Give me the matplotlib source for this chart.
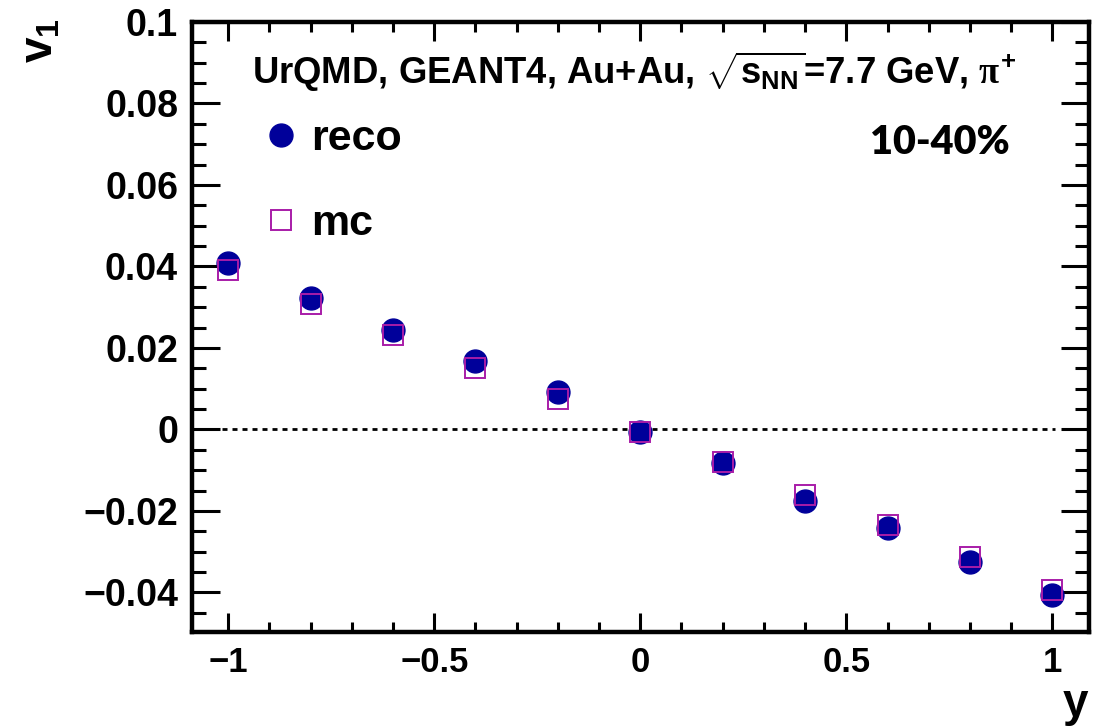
import matplotlib
matplotlib.use('Agg')
import matplotlib.pyplot as plt
from matplotlib.ticker import MultipleLocator, FuncFormatter

plt.rcParams['font.family'] = ['Liberation Sans', 'DejaVu Sans']
plt.rcParams['font.weight'] = 'bold'
plt.rcParams['mathtext.fontset'] = 'custom'
plt.rcParams['mathtext.rm'] = 'Liberation Sans:bold'
plt.rcParams['mathtext.bf'] = 'Liberation Sans:bold'
plt.rcParams['mathtext.it'] = 'Liberation Serif'
plt.rcParams['mathtext.default'] = 'rm'
plt.rcParams['axes.unicode_minus'] = True

# ---- data ----
rapidity = [-1.0, -0.8, -0.6, -0.4, -0.2, 0.0, 0.2, 0.4, 0.6, 0.8, 1.0]
v1_reco = [0.0408, 0.0323, 0.0245, 0.0168, 0.0092, -0.0005, -0.0082, -0.0175, -0.0243, -0.0324, -0.0405]
v1_mc = [0.0392, 0.0308, 0.0231, 0.0152, 0.0076, -0.0005, -0.0081, -0.0162, -0.0234, -0.0313, -0.0393]
series_labels = ['reco', 'mc']
x_label = 'y'
y_label = 'v$_1$'
header = r'UrQMD, GEANT4, Au+Au, $\sqrt{s_{NN}}$=7.7 GeV, $\mathit{\pi}^{+}$'
centrality = '10-40%'

W, H = 1107, 728
fig = plt.figure(figsize=(W / 100, H / 100), dpi=100)
fig.patch.set_facecolor('white')
L, R, T, B = 192, 1089, 22, 632
ax = fig.add_axes([L / W, 1 - B / H, (R - L) / W, (B - T) / H])

ax.axhline(0, xmin=0, xmax=0.962, color='black', lw=2.0, linestyle=(0, (1.8, 1.8)), zorder=1)

h1, = ax.plot(rapidity, v1_reco, linestyle='none', marker='o', ms=16.5,
              color='#00009a', mec='#00009a', label=series_labels[0], zorder=3)
h2, = ax.plot(rapidity, v1_mc, linestyle='none', marker='s', ms=15,
              mfc='none', mec='#a81ca8', mew=1.4, label=series_labels[1], zorder=4)

ax.set_xlim(-1.088, 1.089)
ax.set_ylim(-0.0497, 0.1)

ax.xaxis.set_major_locator(MultipleLocator(0.5))
ax.xaxis.set_minor_locator(MultipleLocator(0.1))
ax.yaxis.set_major_locator(MultipleLocator(0.02))
ax.yaxis.set_minor_locator(MultipleLocator(0.005))

def fmt(v, pos):
    if abs(v) < 1e-9:
        return '0'
    s = ('%.3f' % v).rstrip('0').rstrip('.')
    return s.replace('-', '\u2212')

ax.xaxis.set_major_formatter(FuncFormatter(fmt))
ax.yaxis.set_major_formatter(FuncFormatter(fmt))

for sp in ax.spines.values():
    sp.set_linewidth(3.2)

ax.tick_params(which='both', direction='in', top=True, right=True, width=2.2)
ax.tick_params(axis='y', which='major', length=20, pad=10, labelsize=27)
ax.tick_params(axis='y', which='minor', length=10)
ax.tick_params(axis='x', which='major', length=14, pad=10, labelsize=25)
ax.tick_params(axis='x', which='minor', length=7.5)

fig.text(40 / W, 1 - 18 / H, y_label, rotation=90, ha='center', va='top', fontsize=33)
fig.text(1088 / W, 1 - 726 / H, x_label, ha='right', va='bottom', fontsize=33)

fig.text(252 / W, 1 - 84 / H, header, ha='left', va='baseline', fontsize=26.3)
fig.text(940 / W, 1 - 143 / H, centrality, ha='center', va='center', fontsize=28.5,
         family='Lato', weight='heavy')

ax.legend(handles=[h1, h2], loc='upper left', bbox_to_anchor=(259 / W, 1 - 119 / H),
          bbox_transform=fig.transFigure, frameon=False, fontsize=31,
          handlelength=1.0, handletextpad=0.2, labelspacing=1.05,
          borderpad=0, borderaxespad=0)

fig.savefig('out.png', dpi=100, facecolor='white')
